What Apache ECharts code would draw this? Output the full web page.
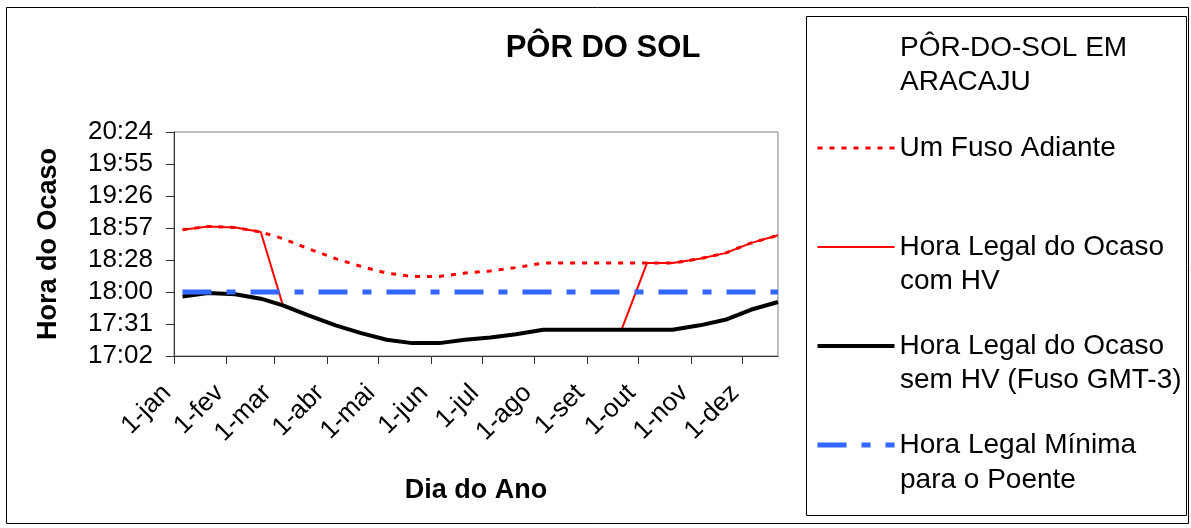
<!DOCTYPE html>
<html>
<head>
<meta charset="utf-8">
<script src="https://cdn.jsdelivr.net/npm/echarts@6/dist/echarts.min.js"></script>
<style>
html,body{margin:0;padding:0;background:#fff;}
#chart{width:1191px;height:528px;}
</style>
</head>
<body>
<div id="chart"></div>
<script>
// ---- Data ----
const meses = ['jan','fev','mar','abr','mai','jun','jul','ago','set','out','nov','dez'];
const datas = ['01-06','01-21','02-06','02-21','03-06','03-21','04-06','04-21','05-06','05-21','06-06','06-21',
               '07-06','07-21','08-06','08-21','09-06','09-21','10-06','10-21','11-06','11-21','12-06','12-22'];
const fusoAdiante = ['18:56','18:59','18:58','18:54','18:48','18:39','18:30','18:23','18:17','18:14','18:14','18:17',
                     '18:19','18:22','18:26','18:26','18:26','18:26','18:26','18:26','18:30','18:35','18:44','18:51'];
const comHV = ['18:56','18:59','18:58','18:54','17:48','17:39','17:30','17:23','17:17','17:14','17:14','17:17',
               '17:19','17:22','17:26','17:26','17:26','17:26','18:26','18:26','18:30','18:35','18:44','18:51'];
const semHV = ['17:56','17:59','17:58','17:54','17:48','17:39','17:30','17:23','17:17','17:14','17:14','17:17',
               '17:19','17:22','17:26','17:26','17:26','17:26','17:26','17:26','17:30','17:35','17:44','17:51'];
const horaMinima = ['18:00','18:00','18:00','18:00','18:00','18:00','18:00','18:00','18:00','18:00','18:00','18:00',
                    '18:00','18:00','18:00','18:00','18:00','18:00','18:00','18:00','18:00','18:00','18:00','18:00'];
const nomes = ['Um Fuso Adiante','Hora Legal do Ocaso com HV','Hora Legal do Ocaso sem HV (Fuso GMT-3)','Hora Legal Mínima para o Poente'];
const primeiraLinha = ['Um Fuso Adiante','Hora Legal do Ocaso','Hora Legal do Ocaso','Hora Legal Mínima'];
const segundaLinha = ['','com HV','sem HV (Fuso GMT-3)','para o Poente'];

// Axis: fraction-of-day scale from 0.71 to 0.85 (step 0.02) expressed in units of 0.01 day above 0.71
const BASE_MIN = 1022.4;   // 17:02.4 in minutes
const UNIT_MIN = 14.4;     // 0.01 day in minutes

// category axis: every day from 1-jan to 22-dez
const dias = [];
(function(){
  const d = new Date(Date.UTC(2009,0,1));
  const end = Date.UTC(2009,11,22);
  while (d.getTime() <= end) {
    const mm = String(d.getUTCMonth()+1).padStart(2,'0');
    const dd = String(d.getUTCDate()).padStart(2,'0');
    dias.push(mm + '-' + dd);
    d.setUTCDate(d.getUTCDate()+1);
  }
})();

function toUnit(t){
  const p = t.split(':');
  const m = parseInt(p[0],10)*60 + parseInt(p[1],10);
  return (m - BASE_MIN) / UNIT_MIN;
}
function fmtUnit(v){
  const m = Math.floor(BASE_MIN + v*UNIT_MIN + 1e-6);
  const h = Math.floor(m/60), mi = m % 60;
  return h + ':' + String(mi).padStart(2,'0');
}
function pares(arr){ return datas.map((d,i)=>[d, toUnit(arr[i])]); }

const FONT = 'Liberation Sans, Arial, sans-serif';
const isFirst = (idx, val) => val.slice(3) === '01';

const estilos = [
  {color: '#ff0000', width: 3, type: [5,7]},
  {color: '#ff0000', width: 2, type: 'solid'},
  {color: '#000000', width: 4, type: 'solid'},
  {color: '#3366ff', width: 5, type: [29,15,9,15]}
];
const valores = [fusoAdiante, comHV, semHV, horaMinima];

const chart = echarts.init(document.getElementById('chart'), null, {renderer:'canvas'});
chart.setOption({
  animation: false,
  backgroundColor: '#fff',
  textStyle: {fontFamily: FONT},
  grid: {left: 174, right: 413, top: 132, bottom: 172, show: true, borderColor: '#808080', borderWidth: 1, containLabel: false},
  xAxis: {
    type: 'category', data: dias, boundaryGap: false,
    name: 'Dia do Ano', nameLocation: 'middle', nameGap: 121,
    nameTextStyle: {fontSize: 27, fontWeight: 'bold', color: '#000', fontFamily: FONT},
    axisLine: {lineStyle: {color: '#333', width: 1}},
    axisTick: {show: true, interval: isFirst, length: 8, lineStyle: {color: '#333'}},
    axisLabel: {interval: isFirst, rotate: 45, margin: 26, padding: [0,10,0,0], fontSize: 26, color: '#000', fontFamily: FONT,
                formatter: v => '1-' + meses[parseInt(v.slice(0,2),10)-1]},
    splitLine: {show: false}
  },
  yAxis: {
    type: 'value', min: 0, max: 14, interval: 2,
    name: 'Hora do Ocaso', nameLocation: 'middle', nameGap: 112,
    nameTextStyle: {fontSize: 27, fontWeight: 'bold', color: '#000', fontFamily: FONT},
    axisLine: {show: true, lineStyle: {color: '#333', width: 1}},
    axisTick: {show: true, length: 8, lineStyle: {color: '#333'}},
    axisLabel: {margin: 21, fontSize: 26, color: '#000', fontFamily: FONT, formatter: fmtUnit},
    splitLine: {show: false}
  },
  legend: {
    orient: 'vertical', left: 815, top: 131.5, padding: 0,
    itemWidth: 77, itemHeight: 14, itemGap: 66,
    data: nomes.map((n,i) => ({name: n, lineStyle: {color: estilos[i].color, width: estilos[i].width, type: estilos[i].type}})),
    itemStyle: {opacity: 0, borderWidth: 0},
    formatter: name => primeiraLinha[nomes.indexOf(name)],
    textStyle: {fontSize: 28, color: '#000', lineHeight: 33, fontFamily: FONT},
    selectedMode: false
  },
  series: nomes.map((n,i) => ({
    name: n, type: 'line', data: pares(valores[i]), symbol: 'none', showSymbol: false,
    lineStyle: estilos[i], itemStyle: {color: estilos[i].color}, z: 2 + i
  })),
  graphic: {elements: [
    {type: 'rect', shape: {x: 6.5, y: 7.5, width: 1182, height: 516}, style: {fill: 'none', stroke: '#000', lineWidth: 1}, z: -10, silent: true},
    {type: 'rect', shape: {x: 806.5, y: 16.5, width: 380, height: 499}, style: {fill: 'none', stroke: '#000', lineWidth: 1}, silent: true},
    {type: 'text', style: {text: 'PÔR DO SOL', x: 603, y: 48, textAlign: 'center', textVerticalAlign: 'middle',
      font: 'bold 31px ' + FONT, fill: '#000'}, silent: true},
    {type: 'text', style: {text: 'PÔR-DO-SOL EM\nARACAJU', x: 900, y: 31, textAlign: 'left', textVerticalAlign: 'top',
      font: '28px ' + FONT, lineHeight: 34, fill: '#000'}, silent: true},
    {type: 'text', style: {text: segundaLinha[1], x: 900, y: 281, textAlign: 'left', textVerticalAlign: 'middle', font: '28px ' + FONT, fill: '#000'}, silent: true},
    {type: 'text', style: {text: segundaLinha[2], x: 900, y: 380, textAlign: 'left', textVerticalAlign: 'middle', font: '28px ' + FONT, fill: '#000'}, silent: true},
    {type: 'text', style: {text: segundaLinha[3], x: 900, y: 480, textAlign: 'left', textVerticalAlign: 'middle', font: '28px ' + FONT, fill: '#000'}, silent: true}
  ]}
});
</script>
</body>
</html>
